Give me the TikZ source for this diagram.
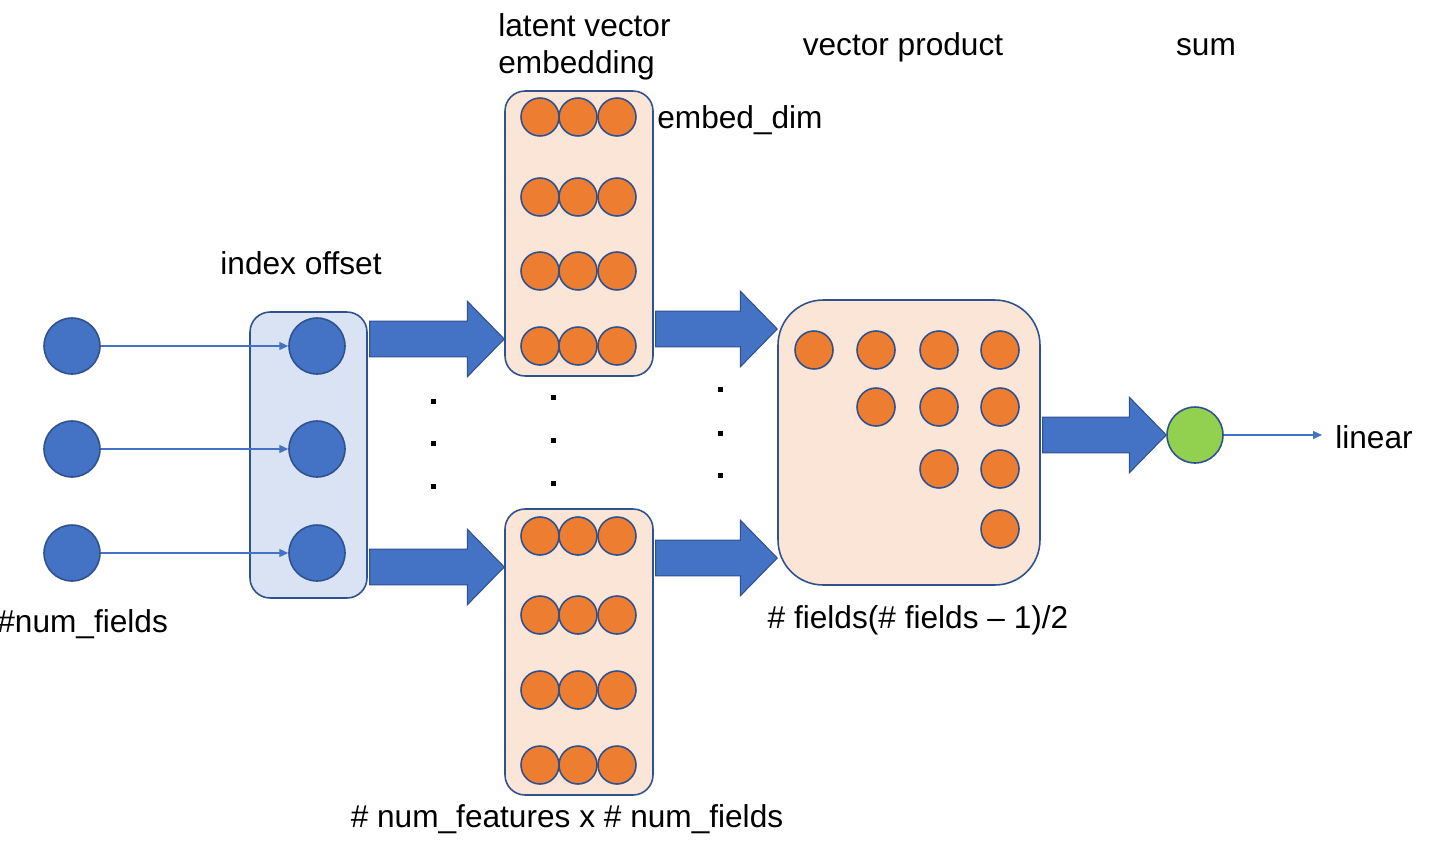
\documentclass[tikz,border=0pt]{standalone}
\usepackage{fontspec}
\setmainfont{Liberation Sans}
\usetikzlibrary{arrows.meta,calc}

\definecolor{fmblue}{HTML}{4472C4}
\definecolor{fmedge}{HTML}{2F528F}
\definecolor{fmpale}{HTML}{DAE3F3}
\definecolor{fmpeach}{HTML}{FBE5D6}
\definecolor{fmorange}{HTML}{ED7D31}
\definecolor{fmgreen}{HTML}{92D050}

\tikzset{
	field/.style={circle, draw=fmedge, fill=fmblue, line width=0.9pt,
		minimum size=1.12cm, inner sep=0pt},
	latent/.style={circle, draw=fmedge, fill=fmorange, line width=0.9pt,
		minimum size=0.76cm, inner sep=0pt},
	panel/.style={draw=fmedge, line width=0.9pt, rounded corners=0.4cm,
		inner sep=0pt},
	fatarrow/.style={draw=fmedge, fill=fmblue, line width=0.6pt},
	feed/.style={fmblue, line width=0.6pt, -{Triangle[length=5pt, width=4.5pt]}},
	txt/.style={font=\fontsize{18}{21}\selectfont, inner sep=0pt}
}

% block arrow: tail node, tip node, height of the arrow
\newcommand{\fatarrow}[3]{%
	\draw [fatarrow] let \p1 = (#1), \p2 = (#2), \p3 = (0, #3) in
		(\x1+1pt, \y3+10.2pt) -- (\x2-21pt, \y3+10.2pt) -- (\x2-21pt, \y3+21.5pt)
		-- (\x2, \y3) -- (\x2-21pt, \y3-21.5pt) -- (\x2-21pt, \y3-10.2pt)
		-- (\x1+1pt, \y3-10.2pt) -- cycle;}

\begin{document}
\begin{tikzpicture}[x=0.02cm, y=-0.02cm]
	\useasboundingbox (0, 0) rectangle (1429, 849);

	\node [panel, fill=fmpale, minimum width=2.34cm, minimum height=5.72cm]
		(offset) at (308.5, 455) {};
	\node [panel, fill=fmpeach, minimum width=2.96cm, minimum height=5.7cm]
		(embA) at (579, 233.5) {};
	\node [panel, fill=fmpeach, minimum width=2.96cm, minimum height=5.72cm]
		(embB) at (579, 652) {};
	\node [panel, fill=fmpeach, rounded corners=0.9cm, minimum width=5.24cm,
		minimum height=5.7cm] (prod) at (909, 442.5) {};

	\foreach \i/\y in {1/346, 2/449, 3/553} {
		\node [field] (in\i) at (72, \y) {};
		\node [field] (off\i) at (317, \y) {};
		\draw [feed] (in\i) -- (off\i);
	}

	\foreach \j/\ya/\yb in {1/117/536, 2/197/615, 3/271/690, 4/346/765}
		\foreach \k/\x in {1/540, 2/578, 3/617} {
			\node [latent] (ea\j\k) at (\x, \ya) {};
			\node [latent] (eb\j\k) at (\x, \yb) {};
		}

	\foreach \j/\y in {1/350, 2/407, 3/469, 4/529}
		\foreach \k/\x in {1/814, 2/876, 3/939, 4/1000} {
			\ifnum\j>\k\else \node [latent] (pr\j\k) at (\x, \y) {}; \fi
		}

	\node [field, fill=fmgreen] (sum) at (1195, 435) {};
	\coordinate (out) at (1322, 435);
	\draw [feed] (sum) -- (out);

	\fatarrow{offset.east}{embA.west}{339}
	\fatarrow{offset.east}{embB.west}{567}
	\fatarrow{embA.east}{prod.west}{329}
	\fatarrow{embB.east}{prod.west}{558}
	\fatarrow{prod.east}{sum.west}{435}

	\foreach \x/\y in {433/401, 433/443, 433/486, 553/397, 553/440, 553/483,
		720/389, 720/433, 720/475}
		\fill (\x, \y) +(-2.5, -2.5) rectangle +(2.5, 2.5);

	\node [txt, anchor=west, align=left] (latentlbl) at (498, 47)
		{latent vector\\embedding};
	\node [txt, anchor=west] (dimlbl) at (657, 120) {embed\_dim};
	\node [txt] (prodlbl) at (903, 47) {vector product};
	\node [txt] (sumlbl) at (1206, 47) {sum};
	\node [txt] (idxlbl) at (301, 263) {index offset};
	\node [txt, anchor=west] (fieldslbl) at (-3, 624) {\#num\_fields};
	\node [txt] (pairslbl) at (918, 620) {\# fields(\# fields -- 1)/2};
	\node [txt] (shapelbl) at (567, 819) {\# num\_features x \# num\_fields};
	\node [txt, anchor=west] (linearlbl) at (1335, 437) {linear};
\end{tikzpicture}
\end{document}
